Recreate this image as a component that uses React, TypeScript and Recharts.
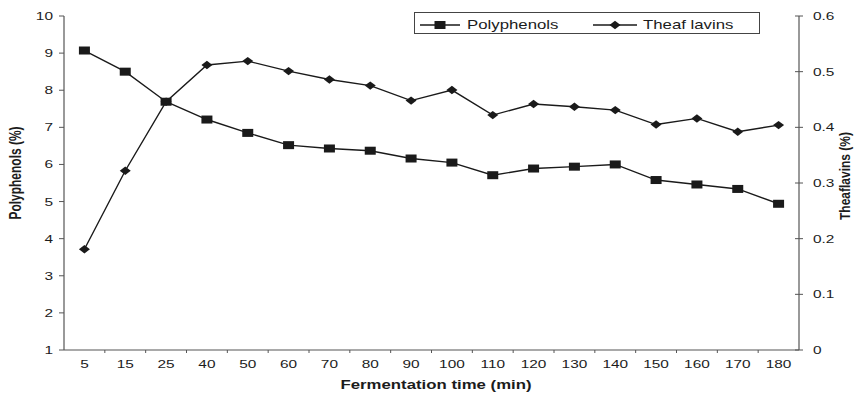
import React from 'react';
import { LineChart, Line, XAxis, YAxis, Legend } from 'recharts';

const times = ['5', '15', '25', '40', '50', '60', '70', '80', '90', '100', '110', '120', '130', '140', '150', '160', '170', '180'];
const polyphenols = [9.07, 8.5, 7.69, 7.21, 6.85, 6.52, 6.43, 6.37, 6.16, 6.05, 5.71, 5.89, 5.94, 6.0, 5.58, 5.46, 5.34, 4.94];
const theaflavins = [0.181, 0.322, 0.446, 0.512, 0.519, 0.501, 0.486, 0.475, 0.448, 0.467, 0.422, 0.442, 0.437, 0.431, 0.405, 0.416, 0.392, 0.404];
const leftTicks = [1, 2, 3, 4, 5, 6, 7, 8, 9, 10];
const rightTicks = [0, 0.1, 0.2, 0.3, 0.4, 0.5, 0.6];

const data = times.map((t, i) => ({ t, poly: polyphenols[i], thea: theaflavins[i] }));

const FONT = '"Liberation Sans", Arial, Helvetica, sans-serif';
const TEXT = '#1c1c1c';
const AXIS = '#555';
const LINE = '#1a1a1a';
const SX = 1.4;

const W = 858;
const H = 394;
const PLOT_LEFT = 64;
const PLOT_RIGHT = 799;
const BW = (PLOT_RIGHT - PLOT_LEFT) / times.length;

const Square = (props: any) => {
  const { cx, cy, index } = props;
  if (cx == null || cy == null) return <g key={`s${index}`} />;
  return <rect key={`s${index}`} x={cx - 5.5} y={cy - 4} width={11} height={8} fill={LINE} />;
};

const Diamond = (props: any) => {
  const { cx, cy, index } = props;
  if (cx == null || cy == null) return <g key={`d${index}`} />;
  return (
    <polygon
      key={`d${index}`}
      points={`${cx - 5.5},${cy} ${cx},${cy - 4.2} ${cx + 5.5},${cy} ${cx},${cy + 4.2}`}
      fill={LINE}
    />
  );
};

const XTick = (props: any) => {
  const { x, y, payload, index } = props;
  const axisY = y - 8;
  return (
    <g>
      {index > 0 && (
        <line x1={x - BW / 2} x2={x - BW / 2} y1={axisY} y2={axisY + 3} stroke={AXIS} strokeWidth={1} />
      )}
      <text
        transform={`translate(${x},${axisY + 18}) scale(${SX},1)`}
        textAnchor="middle"
        fontSize={11}
        fontFamily={FONT}
        fill={TEXT}
      >
        {payload.value}
      </text>
    </g>
  );
};

const LeftTick = (props: any) => {
  const { x, y, payload } = props;
  return (
    <text
      transform={`translate(${x},${y + 4}) scale(${SX},1)`}
      textAnchor="end"
      fontSize={11}
      fontFamily={FONT}
      fill={TEXT}
    >
      {payload.value}
    </text>
  );
};

const RightTick = (props: any) => {
  const { x, y, payload } = props;
  return (
    <g>
      <line x1={PLOT_RIGHT - 4} x2={PLOT_RIGHT + 4} y1={y} y2={y} stroke={AXIS} strokeWidth={1} />
      <text
        transform={`translate(${x},${y + 4}) scale(${SX},1)`}
        textAnchor="start"
        fontSize={11}
        fontFamily={FONT}
        fill={TEXT}
      >
        {payload.value}
      </text>
    </g>
  );
};

const LegendBox = (props: any) => {
  const payload = props.payload || [];
  const find = (k: string) => payload.find((p: any) => p.dataKey === k);
  const p1 = find('poly');
  const p2 = find('thea');
  return (
    <div
      style={{
        width: 346,
        height: 22,
        border: '1px solid #444',
        boxSizing: 'border-box',
        background: '#fff',
        position: 'relative',
      }}
    >
      <svg width={344} height={20} style={{ position: 'absolute', left: 0, top: 0, overflow: 'visible' }}>
        <line x1={5} x2={45} y1={12} y2={12} stroke={LINE} strokeWidth={1.4} />
        <rect x={19.5} y={8} width={11} height={8} fill={LINE} />
        <text transform={`translate(52,16) scale(${SX},1)`} fontSize={12} fontFamily={FONT} fill={TEXT}>
          {p1 ? p1.value : 'Polyphenols'}
        </text>
        <line x1={178} x2={222} y1={12} y2={12} stroke={LINE} strokeWidth={1.4} />
        <polygon points={`${194.5},12 200,7.8 205.5,12 200,16.2`} fill={LINE} />
        <text transform={`translate(228,16) scale(${SX},1)`} fontSize={12} fontFamily={FONT} fill={TEXT}>
          {p2 ? p2.value : 'Theaf lavins'}
        </text>
      </svg>
    </div>
  );
};

const LeftLabel = () => (
  <text
    transform={`translate(21,173) scale(${SX},1) rotate(-90)`}
    textAnchor="middle"
    fontSize={12}
    fontWeight="bold"
    fontFamily={FONT}
    fill={TEXT}
  >
    Polyphenols (%)
  </text>
);

const RightLabel = () => (
  <text
    transform={`translate(850,176) scale(1.2,1) rotate(-90)`}
    textAnchor="middle"
    fontSize={12}
    fontWeight="bold"
    fontFamily={FONT}
    fill={TEXT}
  >
    Theaflavins (%)
  </text>
);

const BottomLabel = () => (
  <text
    transform={`translate(436,389) scale(${SX},1)`}
    textAnchor="middle"
    fontSize={12}
    fontWeight="bold"
    fontFamily={FONT}
    fill={TEXT}
  >
    Fermentation time (min)
  </text>
);

export default function App() {
  return (
    <div style={{ position: 'absolute', left: 0, top: 0, width: W, height: H, background: '#fff' }}>
      <LineChart
        width={W}
        height={H}
        data={data}
        margin={{ top: 16, right: 5, bottom: 10, left: 14 }}
      >
        <XAxis
          dataKey="t"
          xAxisId="x"
          height={34}
          interval={0}
          padding={{ left: BW / 2, right: BW / 2 }}
          tickLine={false}
          axisLine={{ stroke: AXIS, strokeWidth: 1.2 }}
          tick={<XTick />}
          label={<BottomLabel />}
        />
        <YAxis
          yAxisId="left"
          orientation="left"
          width={50}
          domain={[1, 10]}
          ticks={leftTicks}
          type="number"
          allowDataOverflow
          tickSize={5}
          tickMargin={6}
          tickLine={{ stroke: AXIS }}
          axisLine={{ stroke: AXIS, strokeWidth: 1.2 }}
          tick={<LeftTick />}
          label={<LeftLabel />}
        />
        <YAxis
          yAxisId="right"
          orientation="right"
          width={54}
          domain={[0, 0.6]}
          ticks={rightTicks}
          type="number"
          allowDataOverflow
          tickSize={0}
          tickMargin={14}
          tickLine={false}
          axisLine={{ stroke: AXIS, strokeWidth: 1.2 }}
          tick={<RightTick />}
          label={<RightLabel />}
        />
        <Legend
          layout="horizontal"
          verticalAlign="middle"
          align="center"
          wrapperStyle={{ top: 12, left: 414, width: 346, height: 22 }}
          content={<LegendBox />}
        />
        <Line
          xAxisId="x"
          yAxisId="left"
          type="linear"
          dataKey="poly"
          name="Polyphenols"
          stroke={LINE}
          strokeWidth={1.4}
          dot={Square}
          activeDot={false}
          isAnimationActive={false}
        />
        <Line
          xAxisId="x"
          yAxisId="right"
          type="linear"
          dataKey="thea"
          name="Theaf lavins"
          stroke={LINE}
          strokeWidth={1.4}
          dot={Diamond}
          activeDot={false}
          isAnimationActive={false}
        />
      </LineChart>
    </div>
  );
}
